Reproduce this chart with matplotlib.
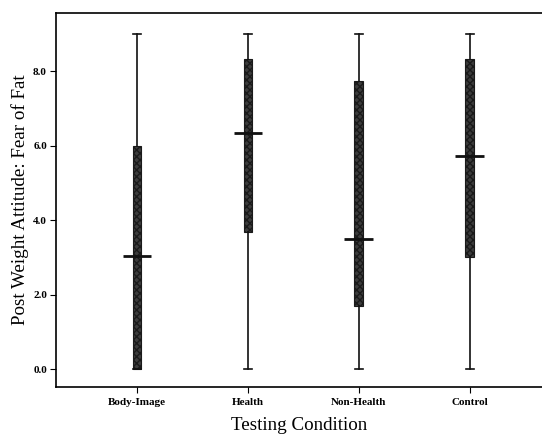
import matplotlib.pyplot as plt

plt.rcParams['font.family'] = ['Liberation Serif', 'DejaVu Serif']

# Box summaries for each testing condition
conditions = ['Body-Image', 'Health', 'Non-Health', 'Control']
whisker_low = [0.0, 0.0, 0.0, 0.0]
q1 = [0.0, 3.67, 1.7, 3.0]
medians = [3.03, 6.33, 3.5, 5.72]
q3 = [6.0, 8.33, 7.73, 8.33]
whisker_high = [9.0, 9.0, 9.0, 9.0]

stats = []
for i, name in enumerate(conditions):
    stats.append({
        'label': name,
        'whislo': whisker_low[i],
        'q1': q1[i],
        'med': medians[i],
        'q3': q3[i],
        'whishi': whisker_high[i],
        'fliers': [],
    })

fig = plt.figure(figsize=(5.42, 4.37), dpi=100)
ax = fig.add_axes([0.1033, 0.1144, 0.8967, 0.8556])

positions = [1, 2, 3, 4]
bp = ax.bxp(stats, positions=positions, widths=0.08, patch_artist=True,
            showfliers=False,
            boxprops=dict(facecolor='#3c3c3c', edgecolor='#1a1a1a', linewidth=0.8),
            whiskerprops=dict(color='#111111', linewidth=1.2),
            capprops=dict(color='#111111', linewidth=1.2),
            medianprops=dict(color='#111111', linewidth=0))

for box in bp['boxes']:
    box.set_hatch('xxxxx')

# wide median bars across each box
for p, m in zip(positions, medians):
    ax.plot([p - 0.13, p + 0.13], [m, m], color='#111111', linewidth=2.0,
            solid_capstyle='butt', zorder=5)

for cap in bp['caps']:
    x = cap.get_xdata()
    c = (x[0] + x[1]) / 2
    cap.set_xdata([c - 0.035, c + 0.035])

ax.set_xlim(0.27, 4.65)
ax.set_ylim(-0.48, 9.56)
ax.set_yticks([0, 2, 4, 6, 8])
ax.set_yticklabels(['0.0', '2.0', '4.0', '6.0', '8.0'])
ax.set_xticks(positions)
ax.set_xticklabels(conditions)

for lbl in ax.get_xticklabels() + ax.get_yticklabels():
    lbl.set_fontsize(8)
    lbl.set_fontweight('bold')

ax.tick_params(axis='both', direction='out', length=4, width=0.8, pad=2.5)
ax.tick_params(axis='x', pad=4)
ax.spines['right'].set_visible(False)
for s in ['left', 'bottom', 'top']:
    ax.spines[s].set_linewidth(1.2)

ax.set_ylabel('Post Weight Attitude: Fear of Fat', fontsize=13.7)
ax.set_xlabel('Testing Condition', fontsize=13.7)
ax.yaxis.set_label_coords(-0.056, 0.5)
ax.xaxis.set_label_coords(0.5, -0.08)

fig.savefig('out.png', dpi=100)
